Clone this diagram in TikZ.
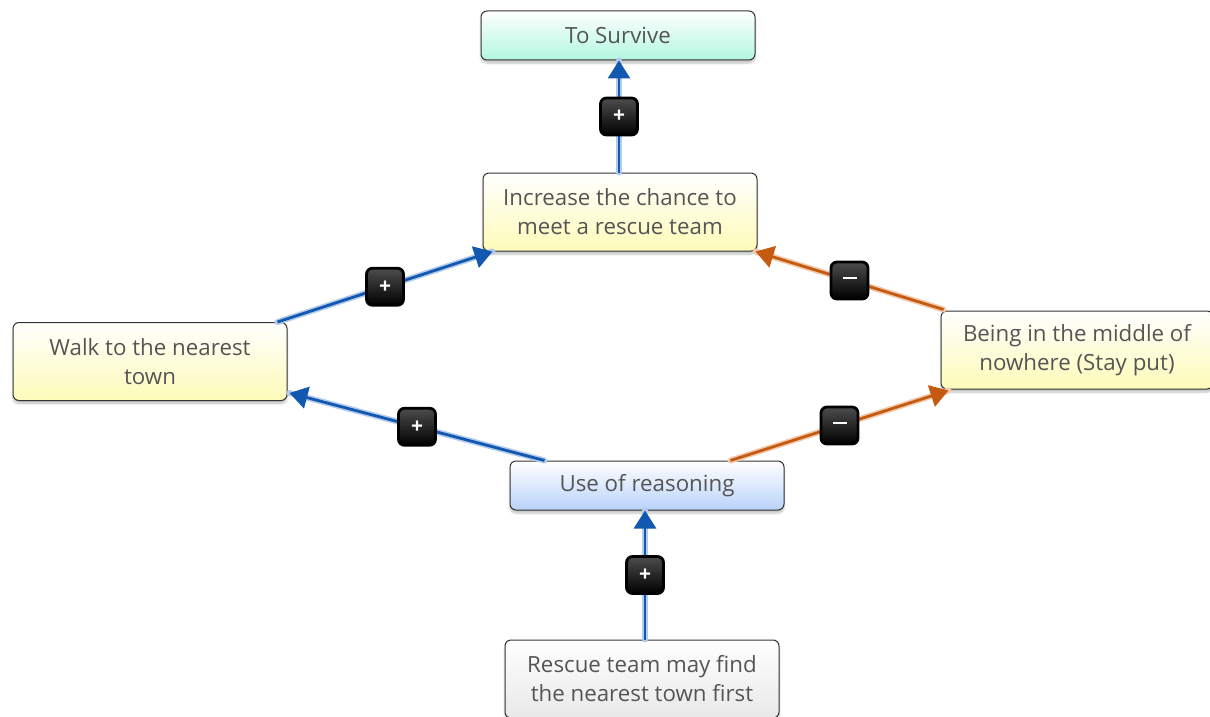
\documentclass[tikz,border=0pt]{standalone}
\usepackage{fontspec}
\setmainfont{Open Sans}
\usetikzlibrary{shadows.blur,arrows.meta,calc}
\definecolor{txt}{HTML}{555555}
\definecolor{eblue}{HTML}{1257B0}
\definecolor{eblueh}{HTML}{B3CBEA}
\definecolor{eor}{HTML}{C55A11}
\definecolor{eorh}{HTML}{F2C9AC}
\definecolor{mint}{HTML}{B2F7E0}
\definecolor{ltblue}{HTML}{B9D2FA}
\definecolor{ltyel}{HTML}{FDFBB8}
\tikzset{
  box/.style={draw=black!80, line width=1pt, rounded corners=6pt, minimum width=274pt,
    align=center, text=txt, font=\fontsize{22.3}{29}\selectfont,
    blur shadow={shadow xshift=0pt, shadow yshift=-3pt, shadow blur steps=6, shadow opacity=25}},
  ybox/.style={box, top color=white, bottom color=ltyel, minimum height=78pt},
  gbox/.style={box, top color=white, bottom color=black!9, minimum height=78pt},
  badge/.style={top color=black!70, bottom color=black, draw=black, rounded corners=6pt, minimum width=37pt, minimum height=37pt,
    text=white, font=\fontsize{21}{21}\selectfont\bfseries, inner sep=0pt},
  halo/.style={line width=6pt, line cap=round},
  bl/.style={draw=eblue, line width=2.8pt, -{Triangle[length=18pt,width=22pt]}},
  ol/.style={draw=eor, line width=2.8pt, -{Triangle[length=18pt,width=22pt]}},
}
\begin{document}
\begin{tikzpicture}[x=1pt,y=-1pt]
\useasboundingbox (0,0) rectangle (1210,717);
\node[box, top color=white, bottom color=mint, minimum height=49pt] (surv) at (618,35.5) {To Survive};
\node[ybox] (inc) at (620,212) {Increase the chance to\\meet a rescue team};
\node[ybox] (walk) at (150,361.5) {Walk to the nearest\\town};
\node[ybox, minimum width=272pt] (being) at (1077,350) {Being in the middle of\\nowhere (Stay put)};
\node[box, top color=white, bottom color=ltblue, minimum height=49pt] (use) at (647,485.5) {Use of reasoning};
\node[gbox] (resc) at (642,679) {Rescue team may find\\the nearest town first};
% connector end points
\coordinate (a1) at ($(inc.north)+(-1,0)$);
\coordinate (a2) at ($(surv.south)+(1,0)$);
\coordinate (b1) at ($(walk.north east)+(-10,0)$);
\coordinate (b2) at ($(inc.south west)+(10,0)$);
\coordinate (c1) at ($(being.north west)+(3,-1)$);
\coordinate (c2) at ($(inc.south east)+(-2,0)$);
\coordinate (d1) at ($(use.north west)+(35,0)$);
\coordinate (d2) at ($(walk.south east)+(2,-8)$);
\coordinate (e1) at ($(use.north east)+(-54,0)$);
\coordinate (e2) at ($(being.south west)+(8,1)$);
\coordinate (f1) at ($(resc.north)+(3,0)$);
\coordinate (f2) at ($(use.south)+(-2,0)$);
% halos
\draw[halo, eblueh] (a1) -- (a2);
\draw[halo, eblueh] (b1) -- (b2);
\draw[halo, eorh] (c1) -- (c2);
\draw[halo, eblueh] (d1) -- (d2);
\draw[halo, eorh] (e1) -- (e2);
\draw[halo, eblueh] (f1) -- (f2);
% connectors
\draw[bl] (a1) -- node[badge] (p1) {+} (a2);
\draw[bl] (b1) -- node[badge] (p2) {+} (b2);
\draw[ol] (c1) -- node[badge] (m1) {\rule[5pt]{14pt}{1.8pt}} (c2);
\draw[bl] (d1) -- node[badge] (p3) {+} (d2);
\draw[ol] (e1) -- node[badge] (m2) {\rule[5pt]{14pt}{1.8pt}} (e2);
\draw[bl] (f1) -- node[badge] (p4) {+} (f2);
\end{tikzpicture}
\end{document}
